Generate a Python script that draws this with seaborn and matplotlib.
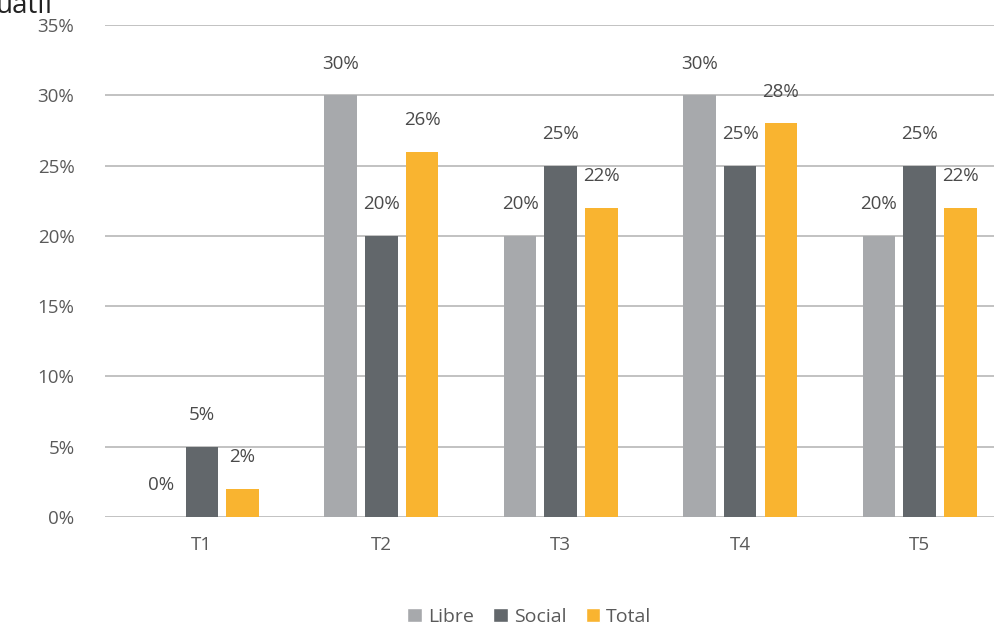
import matplotlib
matplotlib.use("Agg")
import matplotlib.pyplot as plt
import seaborn as sns
import pandas as pd
from matplotlib.patches import Patch

categories = ["T1", "T2", "T3", "T4", "T5"]
series_names = ["Libre", "Social", "Total"]
libre = [0, 30, 20, 30, 20]
social = [5, 20, 25, 25, 25]
total = [2, 26, 22, 28, 22]
y_ticks = [0, 5, 10, 15, 20, 25, 30, 35]
colors = ["#A7A9AC", "#62676B", "#F9B430"]

rows = []
for name, vals in zip(series_names, [libre, social, total]):
    for c, v in zip(categories, vals):
        rows.append({"cat": c, "serie": name, "val": v})
df = pd.DataFrame(rows)

sns.set_style("white")
plt.rcParams["font.family"] = ["Open Sans", "DejaVu Sans"]

fig = plt.figure(figsize=(9.95, 6.28), dpi=100)
ax = fig.add_axes([0.1055, 0.177, 0.8945, 0.783])

sns.barplot(data=df, x="cat", y="val", hue="serie", order=categories,
            hue_order=series_names, palette=colors, width=0.68, gap=0.2,
            saturation=1, legend=False, ax=ax, zorder=3, linewidth=0)

for cont in ax.containers:
    for bar in cont:
        h = bar.get_height()
        ax.text(bar.get_x() + bar.get_width() / 2, h + 1.6, f"{int(round(h))}%",
                ha="center", va="bottom", fontsize=13.5, color="#4A4A4A", zorder=5)

ax.set_ylim(0, 35)
ax.set_xlim(-0.54, 4.42)
ax.set_yticks(y_ticks)
ax.set_yticklabels([f"{t}%" for t in y_ticks], fontsize=13.5, color="#5A5A5A")
ax.tick_params(axis="x", labelsize=13.5, labelcolor="#5A5A5A", length=0, pad=14)
ax.tick_params(axis="y", length=0, pad=22)
ax.set_xlabel("")
ax.set_ylabel("")
ax.yaxis.grid(True, color="#B8B8B8", linewidth=1.2, zorder=0)
for s in ax.spines.values():
    s.set_visible(False)

handles = [Patch(facecolor=c, label=n) for c, n in zip(colors, series_names)]
fig.legend(handles=handles, loc="center", bbox_to_anchor=(0.532, 0.018),
           ncol=3, frameon=False, fontsize=14, handlelength=0.75, handleheight=0.75,
           handletextpad=0.3, columnspacing=1.0, labelcolor="#5A5A5A")

fig.text(-0.004, 0.979, "uatif", fontsize=20, color="#222222", ha="left", va="baseline")

fig.savefig("out.png", dpi=100)
